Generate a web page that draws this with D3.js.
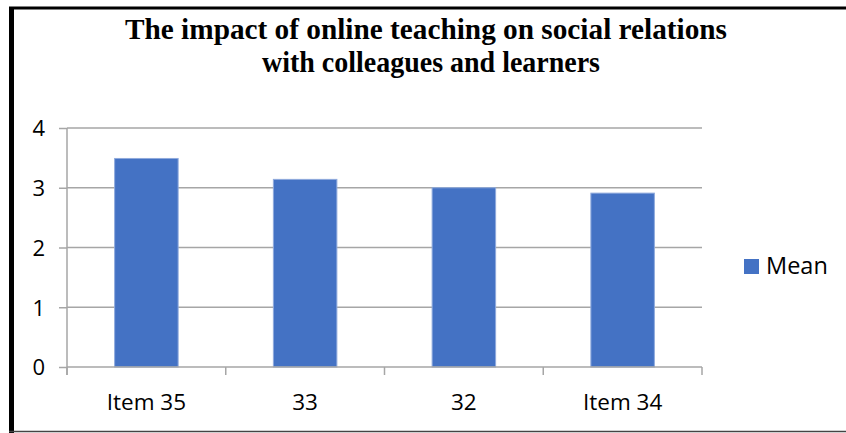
<!DOCTYPE html>
<html><head><meta charset="utf-8">
<script src="https://cdn.jsdelivr.net/npm/d3@7"></script>
<style>body{margin:0;background:#fff}svg{display:block}</style>
</head><body>
<script>
const categories = ["Item 35", "33", "32", "Item 34"];
const meanValues = [3.49, 3.14, 3.0, 2.91];
const yTicks = [0, 1, 2, 3, 4];
const seriesName = "Mean";
const titleLines = ["The impact of online teaching on social relations", "with colleagues and learners"];

const W = 846, H = 433;
const svg = d3.select("body").append("svg").attr("width", W).attr("height", H);

// frame
svg.append("line").attr("x1", 9).attr("x2", W).attr("y1", 8).attr("y2", 8).attr("stroke", "#000").attr("stroke-width", 3);
svg.append("line").attr("x1", 11.5).attr("x2", 11.5).attr("y1", 7).attr("y2", H).attr("stroke", "#000").attr("stroke-width", 5);
svg.append("line").attr("x1", 9).attr("x2", W).attr("y1", 431.5).attr("y2", 431.5).attr("stroke", "#444").attr("stroke-width", 1.5);

// title
const title = svg.append("g").attr("font-family", "'Liberation Serif', 'Times New Roman', serif").attr("font-weight", "bold").attr("font-size", 30).attr("text-anchor", "middle").attr("fill", "#000");
title.append("text").attr("x", 426).attr("y", 39).attr("textLength", 602).attr("lengthAdjust", "spacingAndGlyphs").text(titleLines[0]);
title.append("text").attr("x", 431).attr("y", 72).attr("textLength", 338).attr("lengthAdjust", "spacingAndGlyphs").text(titleLines[1]);

const pLeft = 67, pRight = 702, pTop = 128, pBottom = 367;
const x = d3.scaleBand().domain(categories).range([pLeft, pRight]).paddingInner(0.6).paddingOuter(0.3);
const xb = d3.scaleBand().domain(categories).range([pLeft, pRight]);
const y = d3.scaleLinear().domain([0, 4]).range([pBottom, pTop]);

const grid = "#A6A6A6";
// gridlines
svg.append("g").selectAll("line").data(yTicks.filter(d => d > 0)).join("line")
  .attr("x1", pLeft).attr("x2", pRight).attr("y1", d => y(d)).attr("y2", d => y(d))
  .attr("stroke", grid).attr("stroke-width", 1.5);

// y axis
const yAxis = svg.append("g").attr("transform", `translate(${pLeft},0)`)
  .call(d3.axisLeft(y).tickValues(yTicks).tickSize(8).tickPadding(14).tickFormat(d3.format("d")));
yAxis.select(".domain").attr("stroke", grid).attr("stroke-width", 1.5).attr("d", `M0,${pTop}V${pBottom + 8}`);
yAxis.selectAll(".tick line").attr("stroke", grid).attr("stroke-width", 1.5);
yAxis.selectAll("text").attr("font-family", "'Open Sans', sans-serif").attr("font-size", 22).attr("fill", "#000").attr("dy", "0.36em");

// bars
svg.append("g").selectAll("rect").data(categories).join("rect")
  .attr("x", d => x(d)).attr("width", x.bandwidth())
  .attr("y", (d, i) => y(meanValues[i])).attr("height", (d, i) => y(0) - y(meanValues[i]))
  .attr("fill", "#4472C4").attr("stroke", "#8FAADC").attr("stroke-width", 1);

// x axis
const xAxisG = svg.append("g").attr("transform", `translate(0,${pBottom})`);
xAxisG.append("line").attr("x1", pLeft).attr("x2", pRight).attr("stroke", grid).attr("stroke-width", 1.5);
const bounds = categories.map(c => xb(c)).concat([pRight]);
xAxisG.selectAll("line.tk").data(bounds).join("line").attr("class", "tk")
  .attr("x1", d => d).attr("x2", d => d).attr("y1", 0).attr("y2", 8)
  .attr("stroke", grid).attr("stroke-width", 1.5);
xAxisG.selectAll("text").data(categories).join("text")
  .attr("x", d => xb(d) + xb.bandwidth() / 2).attr("y", 43)
  .attr("text-anchor", "middle").attr("font-family", "'Open Sans', sans-serif").attr("font-size", 22.5).attr("fill", "#000")
  .text(d => d);

// legend
const lg = svg.append("g");
lg.append("rect").attr("x", 744).attr("y", 259).attr("width", 15).attr("height", 15).attr("fill", "#4472C4");
lg.append("text").attr("x", 766).attr("y", 274).attr("font-family", "'Open Sans', sans-serif").attr("font-size", 23.5).attr("fill", "#000").text(seriesName);
</script>
</body></html>
